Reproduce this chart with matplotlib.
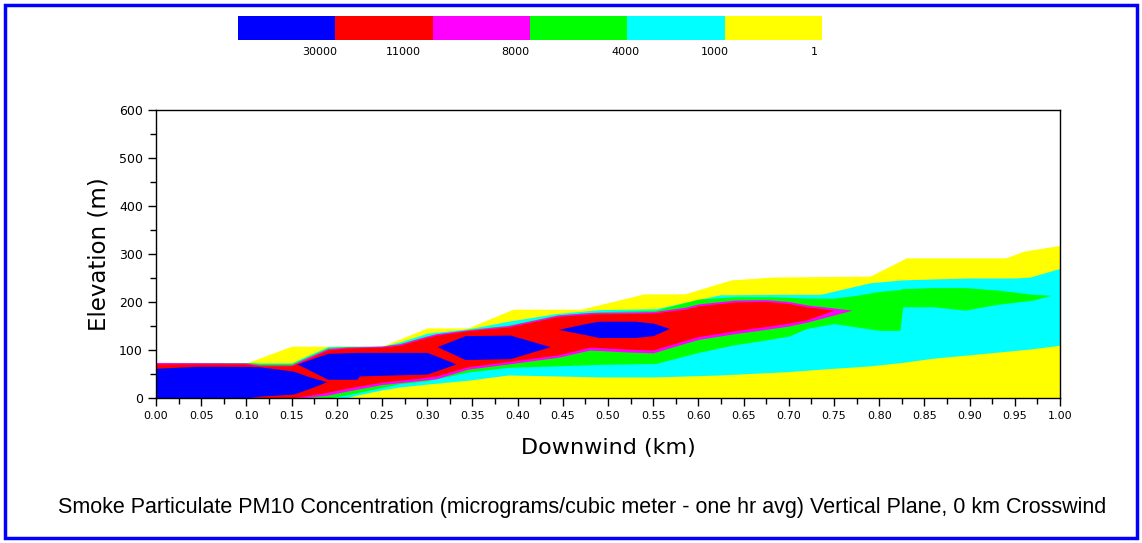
import matplotlib
matplotlib.use("Agg")
import matplotlib.pyplot as plt
from matplotlib.patches import Rectangle
from matplotlib.ticker import MultipleLocator

# contour levels (micrograms/m3) and their colours, highest first
levels = ["30000", "11000", "8000", "4000", "1000", "1"]
level_colors = ["#0000ff", "#ff0000", "#ff00ff", "#00ff00", "#00ffff", "#ffff00"]

# >= 1 : yellow envelope (bottom is the ground)
yel_x = [0, 0.10, 0.15, 0.25, 0.30, 0.345, 0.395, 0.47, 0.54, 0.585, 0.636, 0.683, 0.79, 0.83, 0.94, 0.96, 1.0]
yel_top = [73, 73, 108, 108, 146, 146, 185, 185, 217, 217, 246, 252, 254, 292, 292, 306, 318]

# >= 1000 : cyan
cyan_x = [0, 0.10, 0.115, 0.15, 0.16, 0.19, 0.21, 0.222, 0.25, 0.27, 0.30, 0.345, 0.39, 0.443, 0.49,
          0.553, 0.624, 0.70, 0.735, 0.79, 0.825, 0.86, 0.90, 0.95, 0.967, 1.0]
cyan_top = [74, 74, 73, 73, 82, 107, 108, 108, 108, 117, 135, 144, 160, 176, 184,
            186, 215, 216, 216, 240, 246, 248, 250, 250, 252, 270]
cyan_bot = [0, 0, 0, 0, 0, 0, 0, 6, 17, 23, 29, 37, 48, 46, 44,
            44, 48, 55, 60, 67, 74, 83, 90, 99, 102, 110]

# >= 4000 : green
green_x = [0, 0.10, 0.115, 0.15, 0.16, 0.19, 0.21, 0.25, 0.27, 0.30, 0.345, 0.39, 0.443, 0.49, 0.553,
           0.60, 0.64, 0.675, 0.70, 0.72, 0.75, 0.775, 0.80, 0.823, 0.826, 0.86, 0.895, 0.93, 0.97, 0.99]
green_top = [74, 74, 72, 72, 80, 105, 107, 108, 114, 130, 143, 152, 173, 180, 183,
             206, 211, 211, 210, 208, 208, 214, 222, 226, 228, 230, 230, 225, 216, 214]
green_bot = [0, 0, 0, 0, 0, 0, 6, 22, 30, 36, 54, 64, 67, 70, 72,
             95, 111, 121, 129, 145, 155, 148, 141, 141, 190, 190, 183, 195, 204, 214]

# >= 11000 : red
red_x = [0, 0.10, 0.115, 0.15, 0.16, 0.19, 0.21, 0.25, 0.27, 0.29, 0.31, 0.345, 0.39, 0.445,
         0.48, 0.52, 0.55, 0.585, 0.60, 0.64, 0.675, 0.70, 0.72, 0.75]
red_top = [71, 71, 67, 67, 75, 100, 104, 106, 110, 121, 131, 140, 148, 170,
           175, 176, 177, 185, 192, 200, 201, 197, 190, 183]
red_bot = [0, 0, 0, 0, 3, 12, 20, 33, 37, 41, 46, 65, 76, 90,
           106, 102, 100, 120, 128, 140, 149, 156, 163, 183]

# >= 8000 : magenta, a thin rim round the red
mag_x = red_x[:-1] + [0.77]
mag_top = [74, 73, 69, 69, 78, 103, 106, 108, 113, 124, 134, 142, 151, 173,
           178, 179, 180, 189, 196, 204, 205, 201, 194, 183]
mag_bot = [0, 0, 0, 0, 0, 6, 14, 28, 32, 36, 40, 60, 71, 85,
           100, 96, 94, 114, 122, 134, 143, 150, 158, 183]

# >= 30000 : four blue cores
blue1_x = [0, 0.045, 0.10, 0.115, 0.152, 0.17, 0.189]
blue1_top = [62, 66, 66, 65, 56, 44, 34]
blue1_bot = [0, 0, 0, 4, 8, 20, 34]

blue2_x = [0.156, 0.19, 0.222, 0.225, 0.30, 0.332]
blue2_top = [71, 93, 95, 95, 95, 71]
blue2_bot = [71, 39, 39, 46, 50, 71]

blue3_x = [0.311, 0.342, 0.392, 0.436]
blue3_top = [107, 130, 131, 107]
blue3_bot = [107, 80, 82, 107]

blue4_x = [0.445, 0.475, 0.49, 0.53, 0.55, 0.568]
blue4_top = [143, 155, 160, 160, 156, 145]
blue4_bot = [143, 132, 126, 126, 130, 145]

W, H = 1142, 543
fig = plt.figure(figsize=(W / 100, H / 100), dpi=100)
fig.patch.set_facecolor("white")

# blue frame round the whole picture
fig.patches.append(Rectangle((5 / W, 5 / H), 1132 / W, 533 / H, transform=fig.transFigure,
                             fill=False, edgecolor="#0000ff", linewidth=2.5))

ax = fig.add_axes([156 / W, 1 - 398 / H, 904 / W, 288 / H])
ax.fill_between(yel_x, 0, yel_top, color=level_colors[5], lw=0)
ax.fill_between(cyan_x, cyan_bot, cyan_top, color=level_colors[4], lw=0)
ax.fill_between(green_x, green_bot, green_top, color=level_colors[3], lw=0)
ax.fill_between(mag_x, mag_bot, mag_top, color=level_colors[2], lw=0)
ax.fill_between(red_x, red_bot, red_top, color=level_colors[1], lw=0)
for bx, bt, bb in [(blue1_x, blue1_top, blue1_bot), (blue2_x, blue2_top, blue2_bot),
                   (blue3_x, blue3_top, blue3_bot), (blue4_x, blue4_top, blue4_bot)]:
    ax.fill_between(bx, bb, bt, color=level_colors[0], lw=0)

ax.set_xlim(0, 1)
ax.set_ylim(0, 600)
ax.xaxis.set_minor_locator(MultipleLocator(0.025))
ax.yaxis.set_major_locator(MultipleLocator(100))
ax.yaxis.set_minor_locator(MultipleLocator(50))
ax.set_xticks([i * 0.05 for i in range(21)])
ax.set_xticklabels([f"{i * 0.05:.2f}" for i in range(21)], fontsize=8)
ax.tick_params(axis="y", labelsize=9)
ax.tick_params(which="major", direction="out", length=6, width=1)
ax.tick_params(which="minor", direction="out", length=4, width=1)
for s in ax.spines.values():
    s.set_linewidth(1)
ax.set_xlabel("Downwind (km)", fontsize=16, labelpad=12)
ax.set_ylabel("Elevation (m)", fontsize=16.5, labelpad=6)

# colour key at the top
cax = fig.add_axes([238 / W, 1 - 40 / H, 584 / W, 24 / H])
for i, c in enumerate(level_colors):
    cax.bar(i, 1, width=1, align="edge", color=c, lw=0)
cax.set_xlim(0, 6)
cax.set_ylim(0, 1)
cax.axis("off")
label_px = [320, 403, 515, 625, 715, 814]
for lab, px in zip(levels, label_px):
    fig.text(px / W, 1 - 52 / H, lab, ha="center", va="center", fontsize=8)

fig.text(582 / W, 1 - 508 / H,
         "Smoke Particulate PM10 Concentration (micrograms/cubic meter - one hr avg) Vertical Plane, 0 km Crosswind",
         ha="center", va="center", fontsize=15.5, family="Liberation Sans")

fig.savefig("out.png", dpi=100)
